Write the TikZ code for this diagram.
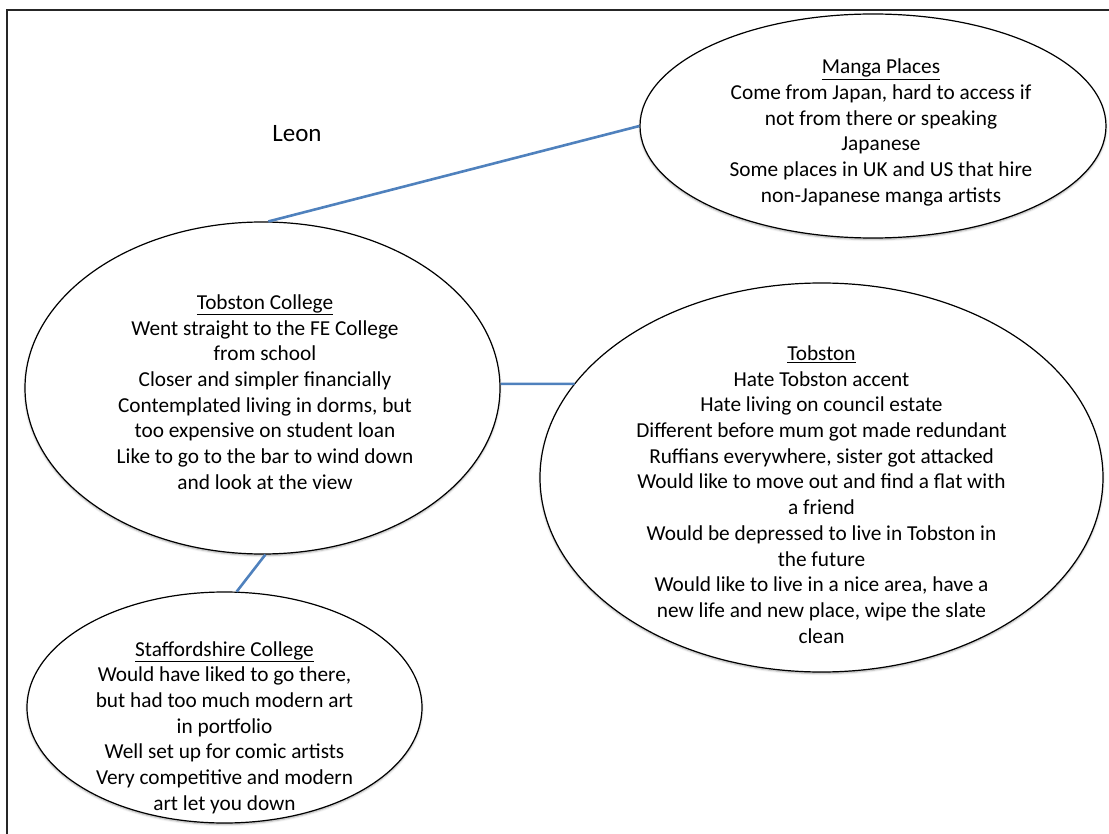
\documentclass[tikz,border=0pt]{standalone}
\usepackage{fontspec}
\setmainfont{Carlito}
\usetikzlibrary{shapes.geometric,shadows.blur,intersections}

\definecolor{linkblue}{HTML}{4F81BD}
\newcommand{\notesize}{\fontsize{21.3pt}{25.7pt}\selectfont}

\tikzset{
  bubble/.style={ellipse, draw=black, line width=1.2pt, fill=white, inner sep=0pt,
    blur shadow={shadow xshift=0pt, shadow yshift=-1.5pt, shadow blur radius=2pt, shadow opacity=35}},
  notes/.style={align=center, font=\notesize, text=black, inner sep=0pt},
  link/.style={draw=linkblue, line width=2.6pt},
  frameline/.style={draw=black!85, line width=2pt},
}

\begin{document}
\begin{tikzpicture}[x=1pt, y=-1pt]
  \useasboundingbox (0,0) rectangle (1109,834);
  \clip (0,0) rectangle (1109,834);

  % page frame (top and left edges)
  \coordinate (frameBL) at (7,834);
  \coordinate (frameTL) at (7,10);
  \coordinate (frameTR) at (1109,10);
  \draw[frameline] (frameBL) -- (frameTL) -- (frameTR);

  % title
  \node[font=\fontsize{25pt}{30pt}\selectfont, inner sep=0pt] (leon) at (297,134) {Leon};

  % bubbles
  \node[bubble, minimum width=466pt, minimum height=224pt] (manga) at (873,126) {};
  \node[bubble, minimum width=475pt, minimum height=332pt] (tc) at (262.5,388) {};
  \node[bubble, minimum width=563pt, minimum height=389pt, name path=tobborder] (tob) at (821.5,477.5) {};
  \node[bubble, minimum width=395pt, minimum height=231pt] (staff) at (224.5,707.5) {};

  % connectors
  \draw[link] (tc.88.8) -- (manga.180);
  \path[name path=tcray] (tc.1) -- ++(200,0);
  \draw[link, name intersections={of=tcray and tobborder, by=tobhit}] (tc.1) -- (tobhit);
  \draw[link] (tc.271.9) -- (staff.84.3);

  % bubble texts
  \node[notes] (mangatext) at (881,132.5) {\underline{Manga Places}\\
    Come from Japan, hard to access if\\
    not from there or speaking\\
    Japanese\\
    Some places in UK and US that hire\\
    non-Japanese manga artists};

  \node[notes] (tctext) at (265,392) {\underline{Tobston College}\\
    Went straight to the FE College\\
    from school\\
    Closer and simpler financially\\
    Contemplated living in dorms, but\\
    too expensive on student loan\\
    Like to go to the bar to wind down\\
    and look at the view};

  \node[notes] (tobtext) at (821.5,494.5) {\underline{Tobston}\\
    Hate Tobston accent\\
    Hate living on council estate\\
    Different before mum got made redundant\\
    Ruffians everywhere, sister got attacked\\
    Would like to move out and find a flat with\\
    a friend\\
    Would be depressed to live in Tobston in\\
    the future\\
    Would like to live in a nice area, have a\\
    new life and new place, wipe the slate\\
    clean};

  \node[notes] (stafftext) at (224.5,727.5) {\underline{Staffordshire College}\\
    Would have liked to go there,\\
    but had too much modern art\\
    in portfolio\\
    Well set up for comic artists\\
    Very competitive and modern\\
    art let you down};
\end{tikzpicture}
\end{document}
